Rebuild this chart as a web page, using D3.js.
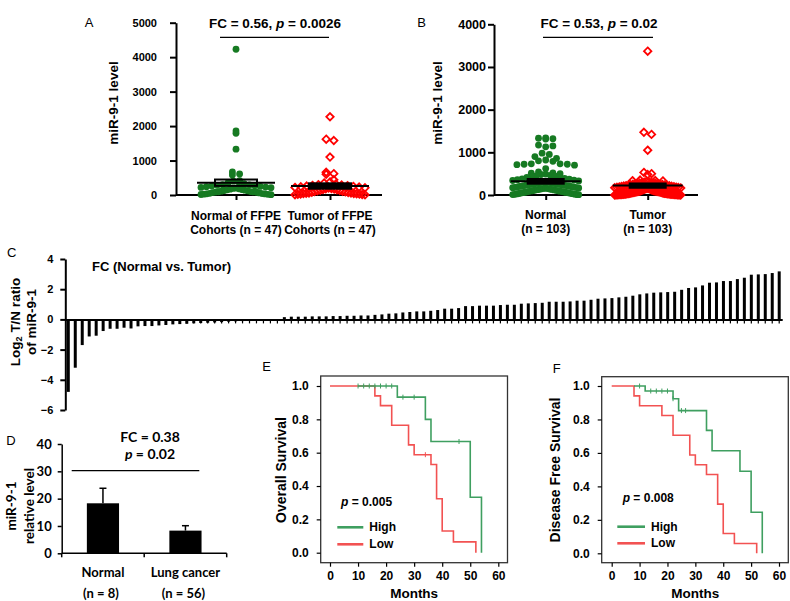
<!DOCTYPE html>
<html><head><meta charset="utf-8">
<script src="https://cdn.jsdelivr.net/npm/d3@7"></script>
<style>body{margin:0;background:#fff}svg{display:block}</style>
</head><body>
<script>
// ---------------- DATA ----------------
const aCategories = [["Normal of FFPE","Cohorts (n = 47)"],["Tumor of FFPE","Cohorts (n = 47)"]];
const aNormal = [4230,1860,1790,1330,670,610,580,420,400,380,350,330,300,290,280,270,260,250,240,230,220,210,200,190,180,170,160,150,140,130,120,110,100,95,90,85,80,70,60,50,40,35,30,25,20,15,10];
const aTumor = [2270,1620,1580,1100,660,620,600,440,380,350,320,300,290,280,270,260,250,240,230,220,210,200,190,180,170,160,150,140,130,120,110,100,90,80,70,60,55,50,45,40,35,30,25,20,15,10,5];
const aMean = [357,261];
const aSem = [92,78];
const aTicks = [0,1000,2000,3000,4000,5000];

const bCategories = [["Normal","(n = 103)"],["Tumor","(n = 103)"]];
const bNormal = [1340,1330,1320,1310,1170,1150,1130,980,950,900,860,820,800,790,730,730,720,720,710,700,620,540,520,510,500,490,480,460,450,440,430,420,410,
 390,380,370,360,350,340,330,320,310,300,295,290,285,280,275,270,265,260,255,250,245,240,235,230,225,220,215,210,205,200,195,190,185,180,175,170,165,160,155,150,145,140,135,130,125,120,115,110,105,100,95,90,85,80,75,70,65,60,55,50,45,40,35,30,25,20,15,12,10,8];
const bTumor = [3370,1470,1420,1050,530,500,480,350,340,335,330,320,310,300,295,290,285,280,275,270,265,260,255,250,245,240,235,230,225,220,215,210,205,200,195,190,185,180,175,170,165,160,155,150,145,140,135,130,125,120,115,110,105,100,97,94,91,88,85,82,79,76,73,70,67,64,61,58,55,52,49,46,43,40,38,36,34,32,30,28,26,24,22,20,19,18,17,16,15,14,13,12,11,10,9,8,7,6,5,4,3,2,1];
const bMean = [320,220];
const bSem = [55,50];
const bTicks = [0,1000,2000,3000,4000];

const cLog2Ratio = [-4.8,-3.2,-1.7,-1.13,-1.08,-0.77,-0.62,-0.62,-0.55,-0.6,-0.46,-0.44,-0.44,-0.4,-0.37,-0.33,-0.31,-0.29,-0.26,-0.24,-0.22,-0.2,-0.18,-0.15,-0.13,-0.11,-0.09,-0.07,-0.05,-0.04,-0.03,
 0.15,0.18,0.18,0.18,0.2,0.2,0.2,0.22,0.22,0.24,0.24,0.26,0.26,0.3,0.33,0.38,0.4,
 0.46,0.49,0.53,0.53,0.57,0.62,0.71,0.71,0.75,0.88,0.88,0.91,0.91,0.91,0.95,0.97,0.97,1.04,1.06,1.08,1.10,1.17,1.17,1.17,1.19,1.24,1.24,1.30,1.37,1.39,1.41,1.46,1.50,1.57,1.66,1.72,1.77,1.79,1.81,1.83,1.96,2.08,2.12,2.25,2.43,2.45,2.54,2.54,2.67,2.76,2.96,2.98,3.00,3.07,3.18];
const cTicks = [-6,-4,-2,0,2,4];

const dCategories = ["Normal","Lung cancer"];
const dCounts = ["(n = 8)","(n = 56)"];
const dMean = [18.3,8.3];
const dErr = [5.5,1.8];
const dTicks = [0,10,20,30,40];

const kmTicksX = [0,10,20,30,40,50,60];
const kmTicksY = [0,0.2,0.4,0.6,0.8,1.0];
const eLowT = [0,16,18,22,28,30,36,38,40,44,52];
const eLowS = [1,0.941,0.882,0.765,0.647,0.588,0.529,0.324,0.13,0.065,0];
const eLowCensT = [34];
const eHighT = [10,24,34,36,50,54];
const eHighS = [1,0.933,0.8,0.667,0.333,0];
const eHighCensT = [10,12,14,16,18,20,22,26,30,46];
const fLowT = [0,8,10,18,22,28,30,34,38,40,44,52];
const fLowS = [1,0.941,0.882,0.824,0.706,0.588,0.529,0.471,0.294,0.118,0.059,0];
const fLowCensT = [];
const fHighT = [8,12,22,24,34,36,46,50,54];
const fHighS = [1,0.97,0.924,0.853,0.735,0.613,0.49,0.245,0];
const fHighCensT = [10,14,16,18,20,22,25,26.5];

// ---------------- DRAWING ----------------
const W = 790, H = 601;
const FONT = "'Liberation Sans', Arial, Helvetica, sans-serif";
const FONT_D = "Lato, 'Open Sans', sans-serif";
const svg = d3.select("body").append("svg").attr("width", W).attr("height", H)
  .style("font-family", FONT);

function txt(g, x, y, s, size, opts = {}) {
  return g.append("text").attr("x", x).attr("y", y)
    .attr("font-size", size).attr("font-weight", opts.weight || "bold")
    .attr("text-anchor", opts.anchor || "middle")
    .attr("dominant-baseline", "central")
    .attr("font-family", opts.family || FONT)
    .text(s);
}
function rtxt(g, x, y, s, size, family) {
  return g.append("text").attr("transform", `translate(${x},${y}) rotate(-90)`)
    .attr("font-size", size).attr("font-weight", "bold")
    .attr("text-anchor", "middle").attr("dominant-baseline", "central")
    .attr("font-family", family || FONT).text(s);
}
function styleAxis(sel, size, sw, family) {
  sel.selectAll("path,line").attr("stroke", "#000").attr("stroke-width", sw);
  sel.selectAll("text").attr("font-size", size).attr("font-weight", "bold")
    .attr("fill", "#000").attr("font-family", family || FONT);
}
function pTitle(g, x, y, pre, post, size) {
  const t = g.append("text").attr("x", x).attr("y", y).attr("text-anchor", "middle")
    .attr("dominant-baseline", "central").attr("font-size", size).attr("font-weight", "bold");
  t.append("tspan").text(pre);
  t.append("tspan").attr("font-style", "italic").text("p");
  t.append("tspan").text(post);
  return t;
}

function layoutDots(values, y, cx, rowH, maxHalf, gap) {
  const base = y(0);
  const pts = values.map(v => ({ v, py: y(v) }));
  const rows = d3.group(pts, p => Math.floor((base - p.py) / rowH));
  for (const [, arr] of rows) {
    arr.sort((a, b) => b.v - a.v);
    const n = arr.length;
    const sp = n > 1 ? Math.min(gap, 2 * maxHalf / (n - 1)) : 0;
    const slots = d3.range(n).map(i => (i - (n - 1) / 2) * sp)
      .sort((a, b) => Math.abs(a) - Math.abs(b));
    arr.forEach((p, i) => p.px = cx + slots[i]);
  }
  return pts;
}

function scatterPanel(cfg) {
  const g = svg.append("g");
  const y = d3.scaleLinear().domain([0, cfg.yMax]).range([cfg.yB, cfg.yT]);
  const x = d3.scalePoint().domain(d3.range(cfg.cats.length)).range(cfg.centers);
  const ya = g.append("g").attr("transform", `translate(${cfg.xL},0)`)
    .call(d3.axisLeft(y).tickValues(cfg.ticks).tickSize(6).tickSizeOuter(0).tickPadding(cfg.tp).tickFormat(d3.format("d")));
  styleAxis(ya, cfg.tickFont, 2);
  const xa = g.append("g").attr("transform", `translate(0,${cfg.yB})`)
    .call(d3.axisBottom(x).tickSize(5).tickFormat(""));
  xa.select(".domain").remove();
  styleAxis(xa, 11, 2);
  g.append("line").attr("x1", cfg.xL).attr("x2", cfg.xR).attr("y1", cfg.yB).attr("y2", cfg.yB)
    .attr("stroke", "#000").attr("stroke-width", 2);
  cfg.cats.forEach((lines, i) => {
    lines.forEach((s, j) => txt(g, x(i), cfg.labY[j], s, cfg.labFont));
  });
  const nPts = layoutDots(cfg.normal, y, x(0), 7, cfg.maxHalf, 7.2);
  g.append("g").selectAll("circle").data(nPts).join("circle")
    .attr("cx", d => d.px).attr("cy", d => d.py).attr("r", 3.4).attr("fill", "#167a22");
  const tPts = layoutDots(cfg.tumor, y, x(1), 7, cfg.maxHalf, 7.6);
  g.append("g").selectAll("path").data(tPts).join("path")
    .attr("d", "M0,-3.7L3.7,0L0,3.7L-3.7,0Z")
    .attr("transform", d => `translate(${d.px},${d.py})`)
    .attr("fill", "none").attr("stroke", "#ff0000").attr("stroke-width", 1.8);
  cfg.mean.forEach((m, i) => {
    g.append("line").attr("x1", x(i) - cfg.meanHalf).attr("x2", x(i) + cfg.meanHalf)
      .attr("y1", y(m)).attr("y2", y(m)).attr("stroke", "#000").attr("stroke-width", 2);
    g.append("rect").attr("x", x(i) - cfg.semHalf).attr("width", cfg.semHalf * 2)
      .attr("y", y(m + cfg.sem[i])).attr("height", y(m - cfg.sem[i]) - y(m + cfg.sem[i]))
      .attr("fill", cfg.semFill[i]).attr("stroke", "#000").attr("stroke-width", 2);
  });
  pTitle(g, cfg.titleX, 23, cfg.titlePre, cfg.titlePost, 13.5);
  g.append("line").attr("x1", cfg.lineX[0]).attr("x2", cfg.lineX[1]).attr("y1", 37.3).attr("y2", 37.3)
    .attr("stroke", "#000").attr("stroke-width", 1.3);
  rtxt(g, cfg.yLabX, 103, "miR-9-1 level", 13.5);
  txt(g, cfg.letter[1], 22.5, cfg.letter[0], 13, { weight: "normal" });
}

scatterPanel({
  cats: aCategories, normal: aNormal, tumor: aTumor, mean: aMean, sem: aSem, ticks: aTicks,
  yMax: 5000, yB: 195, yT: 22.7, xL: 176, xR: 382, centers: [236, 330], tp: 13,
  tickFont: 11, labFont: 12, labY: [216, 229.5], maxHalf: 35, meanHalf: 39, semHalf: 21,
  semFill: ["none", "#000"], titleX: 275, titlePre: "FC = 0.56, ", titlePost: " = 0.0026",
  lineX: [220, 329], yLabX: 113, letter: ["A", 89]
});
scatterPanel({
  cats: bCategories, normal: bNormal, tumor: bTumor, mean: bMean, sem: bSem, ticks: bTicks,
  yMax: 4000, yB: 195, yT: 24.3, xL: 494, xR: 698, centers: [545.7, 647.7], tp: 2,
  tickFont: 12.5, labFont: 12, labY: [215, 229.3], maxHalf: 33, meanHalf: 35, semHalf: 18,
  semFill: ["#000", "#000"], titleX: 599, titlePre: "FC = 0.53, ", titlePost: " = 0.02",
  lineX: [543, 653], yLabX: 437, letter: ["B", 421.7]
});

// ---------- Panel C ----------
(function () {
  const g = svg.append("g");
  const y = d3.scaleLinear().domain([-6, 4]).range([410, 259]);
  const x = d3.scaleBand().domain(d3.range(cLog2Ratio.length)).range([65.3, 782.2])
    .paddingInner(0.57).paddingOuter(0.215);
  g.append("g").selectAll("rect").data(cLog2Ratio).join("rect")
    .attr("x", (d, i) => x(i)).attr("width", x.bandwidth())
    .attr("y", d => Math.min(y(d), y(0))).attr("height", d => Math.abs(y(d) - y(0)))
    .attr("fill", "#000");
  const xa = g.append("g").attr("transform", `translate(0,${y(0)})`)
    .call(d3.axisBottom(x).tickSize(4).tickSizeOuter(0).tickFormat(""));
  styleAxis(xa, 11, 1.2);
  xa.select(".domain").attr("stroke-width", 2);
  const ya = g.append("g").attr("transform", "translate(65.3,0)")
    .call(d3.axisLeft(y).tickValues(cTicks).tickSize(5).tickSizeOuter(0).tickPadding(7));
  styleAxis(ya, 11, 2);
  txt(g, 92, 266.7, "FC (Normal vs. Tumor)", 13, { anchor: "start" });
  const t = g.append("text").attr("transform", "translate(15,322) rotate(-90)")
    .attr("text-anchor", "middle").attr("dominant-baseline", "central")
    .attr("font-size", 13.5).attr("font-weight", "bold");
  t.append("tspan").text("Log");
  t.append("tspan").attr("font-size", 9).attr("dy", 4).text("2");
  t.append("tspan").attr("dy", -4).text(" T/N ratio");
  rtxt(g, 31.5, 322, "of miR-9-1", 13.5);
  txt(g, 11.7, 252.7, "C", 13, { weight: "normal" });
})();

// ---------- Panel D ----------
(function () {
  const g = svg.append("g");
  const y = d3.scaleLinear().domain([0, 40]).range([553.3, 444]);
  const x = d3.scaleBand().domain(dCategories).range([61.7, 226.7]).paddingInner(0.61).paddingOuter(0.305);
  const ya = g.append("g").attr("transform", "translate(61.7,0)")
    .call(d3.axisLeft(y).tickValues(dTicks).tickSize(4).tickSizeOuter(0).tickPadding(6));
  styleAxis(ya, 13, 1.5, FONT_D);
  g.selectAll("rect.bar").data(dMean).join("rect").attr("class", "bar")
    .attr("x", (d, i) => x(dCategories[i])).attr("width", x.bandwidth())
    .attr("y", d => y(d)).attr("height", d => y(0) - y(d)).attr("fill", "#000");
  dMean.forEach((m, i) => {
    const cx = x(dCategories[i]) + x.bandwidth() / 2;
    g.append("line").attr("x1", cx).attr("x2", cx).attr("y1", y(m)).attr("y2", y(m + dErr[i]))
      .attr("stroke", "#000").attr("stroke-width", 1.5);
    g.append("line").attr("x1", cx - 3.5).attr("x2", cx + 3.5).attr("y1", y(m + dErr[i])).attr("y2", y(m + dErr[i]))
      .attr("stroke", "#000").attr("stroke-width", 1.5);
    txt(g, cx, 571.7, dCategories[i], 13, { family: FONT_D });
    txt(g, cx - 2, 592.7, dCounts[i], 13, { family: FONT_D });
  });
  g.append("line").attr("x1", 61.7).attr("x2", 226.7).attr("y1", y(0)).attr("y2", y(0))
    .attr("stroke", "#000").attr("stroke-width", 1.5);
  const step = x.step();
  [0, 1, 2].forEach(i => {
    const xx = 61.7 + i * step;
    g.append("line").attr("x1", xx).attr("x2", xx).attr("y1", y(0)).attr("y2", y(0) + 4)
      .attr("stroke", "#000").attr("stroke-width", 1.5);
  });
  txt(g, 150, 436, "FC = 0.38", 14, { family: FONT_D });
  const t = g.append("text").attr("x", 150).attr("y", 452.7).attr("text-anchor", "middle")
    .attr("dominant-baseline", "central").attr("font-size", 14).attr("font-weight", "bold").attr("font-family", FONT_D);
  t.append("tspan").attr("font-style", "italic").text("p");
  t.append("tspan").text(" = 0.02");
  g.append("line").attr("x1", 71.7).attr("x2", 199.3).attr("y1", 470.7).attr("y2", 470.7)
    .attr("stroke", "#000").attr("stroke-width", 1.2);
  rtxt(g, 11, 506, "miR-9-1", 13.5, FONT_D);
  rtxt(g, 29, 506, "relative level", 13.5, FONT_D);
  txt(g, 11, 440.7, "D", 13, { weight: "normal" });
})();

// ---------- KM panels ----------
const GREEN = "#3f9f60", RED = "#f25252";
function kmPanel(cfg) {
  const g = svg.append("g");
  const x = d3.scaleLinear().domain([0, 60]).range([cfg.x0, cfg.x60]);
  const y = d3.scaleLinear().domain([0, 1]).range([cfg.y0, cfg.y1]);
  g.append("rect").attr("x", cfg.box[0]).attr("y", cfg.box[1])
    .attr("width", cfg.box[2] - cfg.box[0]).attr("height", cfg.box[3] - cfg.box[1])
    .attr("fill", "none").attr("stroke", "#333").attr("stroke-width", 1.3);
  const ya = g.append("g").attr("transform", `translate(${cfg.box[0]},0)`)
    .call(d3.axisLeft(y).tickValues(kmTicksY).tickSize(4).tickPadding(8).tickFormat(d3.format(".1f")));
  ya.select(".domain").remove();
  styleAxis(ya, 12, 1.2);
  const xa = g.append("g").attr("transform", `translate(0,${cfg.box[3]})`)
    .call(d3.axisBottom(x).tickValues(kmTicksX).tickSize(4).tickPadding(5));
  xa.select(".domain").remove();
  styleAxis(xa, 12, 1.2);
  const line = d3.line().x(d => x(d[0])).y(d => y(d[1])).curve(d3.curveStepAfter);
  const curves = [
    { t: cfg.lowT, s: cfg.lowS, c: cfg.lowC, col: RED },
    { t: cfg.highT, s: cfg.highS, c: cfg.highC, col: GREEN }
  ];
  curves.forEach(cv => {
    const pts = cv.t.map((t, i) => [t, cv.s[i]]);
    g.append("path").attr("d", line(pts)).attr("fill", "none").attr("stroke", cv.col).attr("stroke-width", 1.6);
    cv.c.forEach(ct => {
      let idx = d3.bisectRight(cv.t, ct) - 1;
      if (idx < 0) idx = 0;
      const sv = cv.s[idx];
      g.append("line").attr("x1", x(ct)).attr("x2", x(ct)).attr("y1", y(sv) - 2.5).attr("y2", y(sv) + 2.5)
        .attr("stroke", cv.col).attr("stroke-width", 1);
    });
  });
  pTitle(g, cfg.pX, cfg.pY, "", cfg.pText, 12).attr("text-anchor", "start");
  g.append("line").attr("x1", cfg.legX[0]).attr("x2", cfg.legX[1]).attr("y1", cfg.legY[0]).attr("y2", cfg.legY[0])
    .attr("stroke", GREEN).attr("stroke-width", 2.6);
  g.append("line").attr("x1", cfg.legX[0]).attr("x2", cfg.legX[1]).attr("y1", cfg.legY[1]).attr("y2", cfg.legY[1])
    .attr("stroke", RED).attr("stroke-width", 2.6);
  txt(g, cfg.legX[1] + 6, cfg.legY[0], "High", 12, { anchor: "start" });
  txt(g, cfg.legX[1] + 6, cfg.legY[1], "Low", 12, { anchor: "start" });
  txt(g, (cfg.x0 + cfg.x60) / 2, 593.5, "Months", 13.5);
  rtxt(g, cfg.yLabX, 470, cfg.yLab, 14);
  txt(g, cfg.letter[1], cfg.letter[2], cfg.letter[0], 13, { weight: "normal" });
}
kmPanel({
  x0: 330, x60: 498.3, y0: 552.7, y1: 386, box: [320.7, 376, 507.5, 562.7],
  lowT: eLowT, lowS: eLowS, lowC: eLowCensT, highT: eHighT, highS: eHighS, highC: eHighCensT,
  pX: 341, pY: 502.3, pText: " = 0.005", legX: [337.3, 363.3], legY: [527.3, 544.3],
  yLabX: 281, yLab: "Overall Survival", letter: ["E", 266.7, 366.7]
});
kmPanel({
  x0: 611.7, x60: 779, y0: 553.3, y1: 386, box: [601.7, 376.7, 788.3, 562.7],
  lowT: fLowT, lowS: fLowS, lowC: fLowCensT, highT: fHighT, highS: fHighS, highC: fHighCensT,
  pX: 622.7, pY: 498.3, pText: " = 0.008", legX: [617.3, 645], legY: [526.7, 543.3],
  yLabX: 555, yLab: "Disease Free Survival", letter: ["F", 556.7, 368]
});
</script>
</body></html>
